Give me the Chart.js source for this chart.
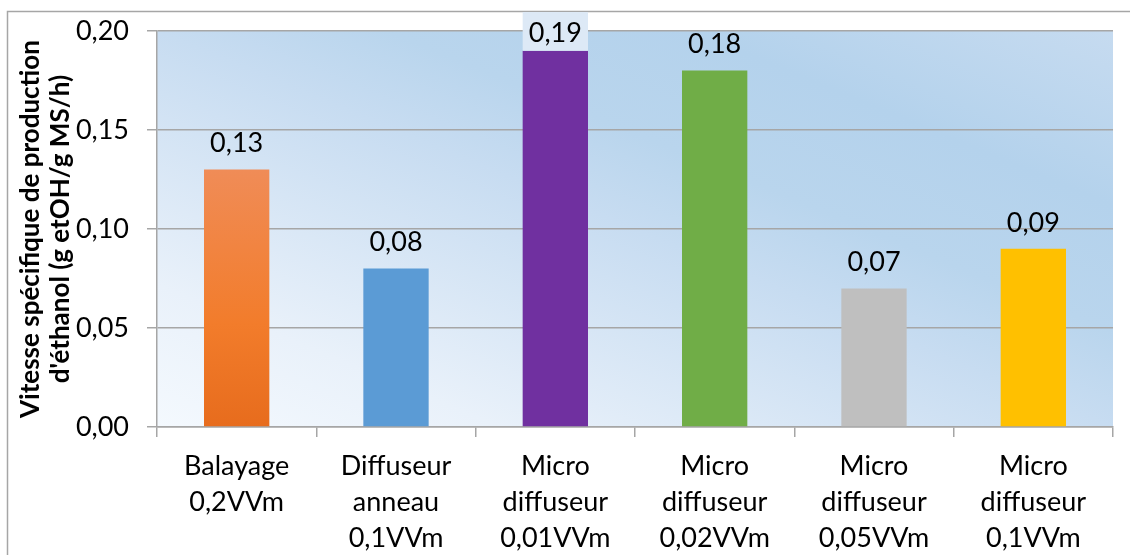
<!DOCTYPE html>
<html>
<head>
<meta charset="utf-8">
<script src="https://cdn.jsdelivr.net/npm/chart.js@4.4.0/dist/chart.umd.min.js"></script>
<style>
  html, body { margin: 0; padding: 0; background: #fff; }
  #wrap { width: 1130px; height: 555px; position: relative; }
</style>
</head>
<body>
<div id="wrap"><canvas id="c" width="1130" height="555"></canvas></div>
<script>
// ——— DATA ———
const categories = [
  ['Balayage', '0,2VVm'],
  ['Diffuseur', 'anneau', '0,1VVm'],
  ['Micro', 'diffuseur', '0,01VVm'],
  ['Micro', 'diffuseur', '0,02VVm'],
  ['Micro', 'diffuseur', '0,05VVm'],
  ['Micro', 'diffuseur', '0,1VVm'],
];
const rates = [0.13, 0.08, 0.19, 0.18, 0.07, 0.09];
const yTicks = [0, 0.05, 0.10, 0.15, 0.20];
const yTitle = ['Vitesse spécifique de production', "d'éthanol (g etOH/g MS/h)"];

const FONT = 'Lato, "Noto Sans", sans-serif';
const GRID = '#a6a6a6';
const barColors = ['orange', '#5b9bd5', '#7030a0', '#70ad47', '#bfbfbf', '#ffc000'];

const fmt = v => v.toFixed(2).replace('.', ',');

function barFill(ctx) {
  const c = barColors[ctx.dataIndex];
  if (c !== 'orange') return c;
  const chart = ctx.chart;
  if (!chart.chartArea) return '#f07f30';
  const ys = chart.scales.y;
  const top = ys.getPixelForValue(ctx.raw);
  const g = chart.ctx.createLinearGradient(0, top, 0, ys.getPixelForValue(0));
  g.addColorStop(0, '#f08c57');
  g.addColorStop(0.6, '#f27c2b');
  g.addColorStop(1, '#e76c1d');
  return g;
}

// ——— PLUGIN: frame, plot fill, value labels ———
const decor = {
  id: 'decor',
  beforeDraw(chart) {
    const { ctx, chartArea: a } = chart;
    ctx.save();
    ctx.strokeStyle = GRID;
    ctx.lineWidth = 1.5;
    ctx.beginPath();
    ctx.moveTo(7.5, 556); ctx.lineTo(7.5, 11.5); ctx.lineTo(1131, 11.5);
    ctx.stroke();
    // diagonal gradient in the unit square of the plot area
    ctx.translate(a.left, a.top);
    ctx.scale(a.right - a.left, a.bottom - a.top);
    const g = ctx.createLinearGradient(0, 1, 1, 0);
    g.addColorStop(0, '#f4f9fe');
    g.addColorStop(0.18, '#e9f1fa');
    g.addColorStop(0.5, '#c7dcf1');
    g.addColorStop(0.62, '#b9d5ed');
    g.addColorStop(0.78, '#b4d2ec');
    g.addColorStop(1, '#c6dbf0');
    ctx.fillStyle = g;
    ctx.fillRect(0, 0, 1, 1);
    ctx.restore();
  },
  afterDatasetsDraw(chart) {
    const { ctx } = chart;
    const meta = chart.getDatasetMeta(0);
    ctx.save();
    ctx.font = '27px ' + FONT;
    ctx.textAlign = 'center';
    ctx.textBaseline = 'middle';
    meta.data.forEach((bar, i) => {
      let cy = bar.y - 27;
      const half = 20;
      if (cy - half < 12) {
        cy = 12 + half;
        ctx.fillStyle = '#dde9f6';
        ctx.fillRect(bar.x - bar.width / 2, cy - half, bar.width, bar.y - (cy - half));
      }
      ctx.fillStyle = '#000';
      ctx.fillText(fmt(rates[i]), bar.x, cy + 1);
    });
    ctx.restore();
  }
};

new Chart(document.getElementById('c'), {
  type: 'bar',
  data: {
    labels: categories,
    datasets: [{
      data: rates,
      backgroundColor: barFill,
      borderWidth: 0,
      barPercentage: 0.41,
      categoryPercentage: 1,
    }]
  },
  options: {
    responsive: false,
    devicePixelRatio: 1,
    animation: false,
    layout: { padding: { top: 31, right: 17, left: 0, bottom: 0 } },
    plugins: { legend: { display: false }, tooltip: { enabled: false } },
    scales: {
      x: {
        grid: { drawOnChartArea: false, drawTicks: true, tickLength: 10, color: GRID, lineWidth: 1.5, offset: true },
        border: { color: GRID, width: 1.5 },
        ticks: { color: '#000', padding: 11, font: { family: FONT, size: 27, lineHeight: '36px' }, maxRotation: 0, autoSkip: false },
        afterFit: s => { s.height = 128; }
      },
      y: {
        min: 0, max: 0.2,
        afterBuildTicks: s => { s.ticks = yTicks.map(v => ({ value: v })); },
        grid: { color: GRID, lineWidth: 1.5, tickLength: 10 },
        border: { color: GRID, width: 1.5 },
        ticks: { color: '#000', padding: 18, font: { family: FONT, size: 27 }, callback: v => fmt(v) },
        title: {
          display: true, text: yTitle, color: '#000',
          font: { family: FONT, size: 26, weight: 'bold', lineHeight: '30px' },
          padding: { top: 16, bottom: 0 }
        },
        afterFit: s => { s.width = 157; s.paddingTop = 0; s.paddingBottom = 0; }
      }
    }
  },
  plugins: [decor]
});
</script>
</body>
</html>
